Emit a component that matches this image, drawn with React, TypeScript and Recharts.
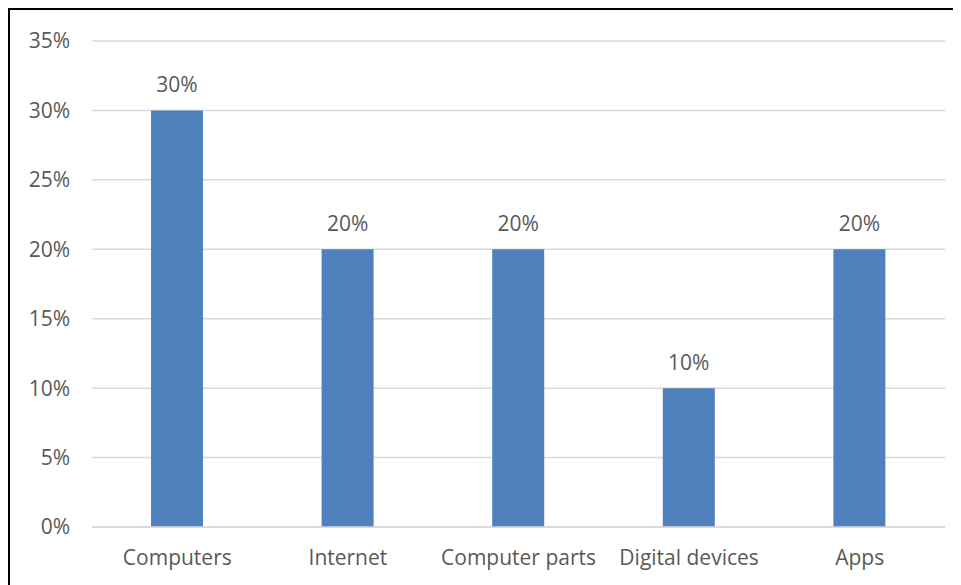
import React from "react";
import { BarChart, Bar, XAxis, YAxis, CartesianGrid, LabelList } from "recharts";

const categories = ["Computers", "Internet", "Computer parts", "Digital devices", "Apps"];
const shares = [30, 20, 20, 10, 20];
const yTicks = [0, 5, 10, 15, 20, 25, 30, 35];

const data = categories.map((name, i) => ({ name, share: shares[i] }));

const font = "'Open Sans', sans-serif";
const textColor = "#595959";

const App = () => {
  return (
    <div
      style={{
        width: 951,
        height: 575,
        borderTop: "2px solid #000",
        borderLeft: "2px solid #000",
        background: "#fff",
        fontFamily: font,
      }}
    >
      <BarChart
        width={951}
        height={575}
        data={data}
        margin={{ top: 31, right: 16, bottom: 28, left: 0 }}
        barSize={52}
      >
        <CartesianGrid vertical={false} stroke="#D9D9D9" strokeWidth={1.5} />
        <XAxis
          dataKey="name"
          axisLine={{ stroke: "#D9D9D9", strokeWidth: 1.5 }}
          tickLine={false}
          tick={{ fill: textColor, fontSize: 21, fontFamily: font }}
          tickMargin={17}
        />
        <YAxis
          width={82}
          domain={[0, 35]}
          ticks={yTicks}
          interval={0}
          axisLine={false}
          tickLine={false}
          tick={{ fill: textColor, fontSize: 21, fontFamily: font }}
          tickFormatter={(v: number) => `${v}%`}
          tickMargin={16}
        />
        <Bar dataKey="share" fill="#4F81BD" isAnimationActive={false}>
          <LabelList
            dataKey="share"
            position="top"
            offset={18}
            formatter={(v: any) => `${v}%`}
            style={{ fill: textColor, fontSize: 21, fontFamily: font }}
          />
        </Bar>
      </BarChart>
    </div>
  );
};

export default App;
